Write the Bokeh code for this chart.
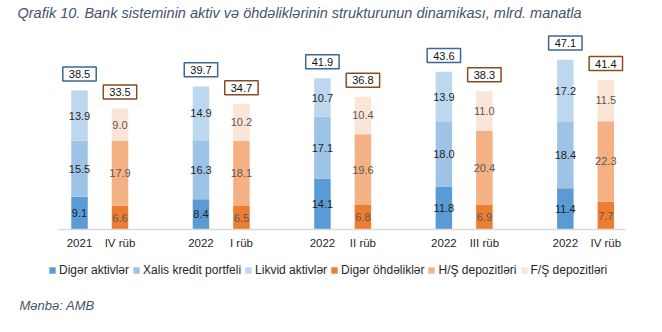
from bokeh.plotting import figure
from bokeh.models import ColumnDataSource, Legend, LegendItem, Label, Range1d
from bokeh.embed import file_html
from bokeh.resources import INLINE
from bokeh.core.properties import value

# ---- data (mlrd. manat) ----
years = ["2021", "2022", "2022", "2022", "2022"]
quarters = ["IV rüb", "I rüb", "II rüb", "III rüb", "IV rüb"]

diger_aktivler = [9.1, 8.4, 14.1, 11.8, 11.4]
xalis_kredit = [15.5, 16.3, 17.1, 18.0, 18.4]
likvid_aktivler = [13.9, 14.9, 10.7, 13.9, 17.2]
aktiv_cemi = [38.5, 39.7, 41.9, 43.6, 47.1]

diger_ohdelikler = [6.6, 6.5, 6.8, 6.9, 7.7]
hs_depozitleri = [17.9, 18.1, 19.6, 20.4, 22.3]
fs_depozitleri = [9.0, 10.2, 10.4, 11.0, 11.5]
ohdelik_cemi = [33.5, 34.7, 36.8, 38.3, 41.4]

asset_names = ["Digər aktivlər", "Xalis kredit portfeli", "Likvid aktivlər"]
liab_names = ["Digər öhdəliklər", "H/Ş depozitləri", "F/Ş depozitləri"]
asset_colors = ["#5B9BD5", "#9DC3E6", "#BDD7EE"]
liab_colors = ["#ED7D31", "#F4B183", "#FBE5D6"]

FONT = "Liberation Sans"
FONT_V = value(FONT)
n = len(years)
ax = [6 * i for i in range(n)]
lx = [6 * i + 2 for i in range(n)]
BW = 0.815

# frame covers the whole canvas: 1 x-unit = 20.24 px, 1 y-unit = 3.61 px
p = figure(width=662, height=332, output_backend="svg", toolbar_location=None,
           x_range=Range1d(-3.903, 28.80), y_range=Range1d(-28.53, 63.43),
           x_axis_location=None, y_axis_location=None,
           min_border=0)
p.outline_line_color = None
p.xgrid.visible = False
p.ygrid.visible = False

asrc = ColumnDataSource(dict(x=ax, a0=diger_aktivler, a1=xalis_kredit, a2=likvid_aktivler))
lsrc = ColumnDataSource(dict(x=lx, l0=diger_ohdelikler, l1=hs_depozitleri, l2=fs_depozitleri))

ar = p.vbar_stack(["a0", "a1", "a2"], x="x", width=BW, color=asset_colors, line_color=None, source=asrc)
lr = p.vbar_stack(["l0", "l1", "l2"], x="x", width=BW, color=liab_colors, line_color=None, source=lsrc)

# category axis line
p.segment(x0=[-1.0375], y0=[0], x1=[26.98], y1=[0], line_color="#D9D9D9", line_width=1.5)


def seg_labels(xs, series, color):
    lx_, ly_, lt_ = [], [], []
    base = [0.0] * len(xs)
    for s in series:
        for i, v in enumerate(s):
            lx_.append(xs[i]); ly_.append(base[i] + v / 2); lt_.append(f"{v:.1f}")
            base[i] += v
    p.text(x=lx_, y=ly_, text=lt_, text_align="center", text_baseline="middle",
           text_font_size="11px", text_font=FONT_V, text_color=color)


seg_labels(ax, [diger_aktivler, xalis_kredit, likvid_aktivler], "#1F1F1F")
seg_labels(lx, [diger_ohdelikler, hs_depozitleri, fs_depozitleri], "#595959")

p.text(x=ax, y=aktiv_cemi, text=[f"{t:.1f}" for t in aktiv_cemi], y_offset=-16.5,
       text_align="center", text_baseline="middle", text_font_size="11px", text_font=FONT_V,
       text_color="#111111", background_fill_color="white", border_line_color="#3A6794",
       border_line_width=1.5, padding=dict(x=6, y=3))
p.text(x=lx, y=ohdelik_cemi, text=[f"{t:.1f}" for t in ohdelik_cemi], y_offset=-16.5,
       text_align="center", text_baseline="middle", text_font_size="11px", text_font=FONT_V,
       text_color="#111111", background_fill_color="white", border_line_color="#8E4A1F",
       border_line_width=1.5, padding=dict(x=6, y=3))

# category labels under the bars
p.text(x=ax + lx, y=[0] * (2 * n), text=years + quarters, y_offset=13.5,
       text_align="center", text_baseline="middle", text_font_size="11.5px",
       text_font=FONT_V, text_color="#1F1F1F")

items = [LegendItem(label=asset_names[k], renderers=[ar[k]]) for k in range(3)] + \
        [LegendItem(label=liab_names[k], renderers=[lr[k]]) for k in range(3)]
leg = Legend(items=items, orientation="horizontal", location=(48, 55),
             glyph_width=8, glyph_height=8, label_standoff=3, spacing=3,
             label_text_font=FONT, label_text_font_size="12px", label_text_color="#262626",
             label_height=14, padding=4, margin=0, border_line_color=None,
             background_fill_alpha=0)
p.add_layout(leg, "center")

p.add_layout(Label(x=17, y=319.7, x_units="screen", y_units="screen",
                   text="Qrafik 10. Bank sisteminin aktiv və öhdəliklərinin strukturunun dinamikası, mlrd. manatla",
                   text_font=FONT, text_font_size="14.5px", text_font_style="italic",
                   text_color="#44546A", text_baseline="middle"))
p.add_layout(Label(x=19, y=27, x_units="screen", y_units="screen", text="Mənbə: AMB",
                   text_font=FONT, text_font_size="13px", text_font_style="italic",
                   text_color="#44546A", text_baseline="middle"))

open("out.html", "w").write(file_html(p, INLINE))
